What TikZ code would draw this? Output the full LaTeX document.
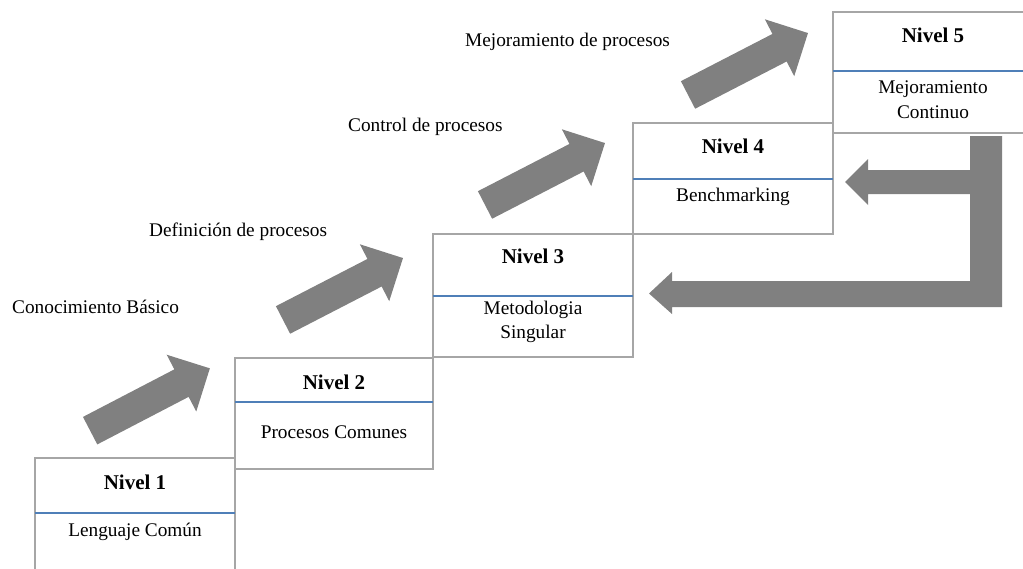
\documentclass[tikz,border=0pt]{standalone}
\usepackage{fontspec}
\setmainfont{Liberation Serif}
\definecolor{boxgray}{HTML}{A6A6A6}
\definecolor{rulblue}{HTML}{4F7FB8}
\definecolor{arrgray}{HTML}{808080}
\begin{document}
\begin{tikzpicture}[x=1pt,y=-1pt,
  levelbox/.style={draw=boxgray,line width=1.1pt},
  divider/.style={draw=rulblue,line width=2.4pt},
  lvltitle/.style={font=\fontsize{21}{25}\selectfont\bfseries,inner sep=0pt},
  lvldesc/.style={font=\fontsize{19.3}{24.5}\selectfont,inner sep=0pt,align=center},
  steplabel/.style={font=\fontsize{19.3}{23}\selectfont,inner sep=0pt,anchor=west},
  % block arrow pointing along +x, centred on the pic origin
  fatarrow/.pic={
    \fill[arrgray] (-67.5,-15.5) -- (35.5,-15.5) -- (35.5,-32) -- (67.5,0)
      -- (35.5,32) -- (35.5,15.5) -- (-67.5,15.5) -- cycle;
  },
]
\useasboundingbox (0,0) rectangle (1023,568);

% level boxes with their dividing rules
\draw[levelbox] (35,458) rectangle (235,580);
\draw[divider] (35,513) -- (235,513);
\draw[levelbox] (235,358) rectangle (433,469);
\draw[divider] (235,402) -- (433,402);
\draw[levelbox] (433,234) rectangle (633,357);
\draw[divider] (433,296) -- (633,296);
\draw[levelbox] (633,123) rectangle (833,234);
\draw[divider] (633,179) -- (833,179);
\draw[levelbox] (833,12) rectangle (1035,133);
\draw[divider] (833,71) -- (1035,71);

% box texts
\node[lvltitle] (t1) at (135,482) {Nivel 1};
\node[lvldesc]  (d1) at (135,532) {Lenguaje Común};
\node[lvltitle] (t2) at (334,382) {Nivel 2};
\node[lvldesc]  (d2) at (334,432) {Procesos Comunes};
\node[lvltitle] (t3) at (533,256) {Nivel 3};
\node[lvldesc]  (d3) at (533,322) {Metodologia\\Singular};
\node[lvltitle] (t4) at (733,146) {Nivel 4};
\node[lvldesc]  (d4) at (733,197) {Benchmarking};
\node[lvltitle] (t5) at (933,35) {Nivel 5};
\node[lvldesc]  (d5) at (933,99.5) {Mejoramiento\\Continuo};

% rising arrows between the steps
\pic[rotate=27.5] at (150,399.5) {fatarrow};
\pic[rotate=27.3] at (343,289) {fatarrow};
\pic[rotate=27.3] at (545,174) {fatarrow};
\pic[rotate=27.3] at (748,64) {fatarrow};

% step labels
\node[steplabel] (l1) at (12,307) {Conocimiento Básico};
\node[steplabel] (l2) at (149,232) {Definición de procesos};
\node[steplabel] (l3) at (348,127) {Control de procesos};
\node[steplabel] (l4) at (465,42) {Mejoramiento de procesos};

% feedback loop on the right: bar with two arrows pointing back
\fill[arrgray] (970,136) -- (1002,136) -- (1002,307) -- (672,307)
  -- (672,314) -- (649,293.5) -- (672,272) -- (672,281) -- (970,281)
  -- (970,194) -- (868,194) -- (868,205) -- (845,182) -- (868,159)
  -- (868,170) -- (970,170) -- cycle;
\end{tikzpicture}
\end{document}
